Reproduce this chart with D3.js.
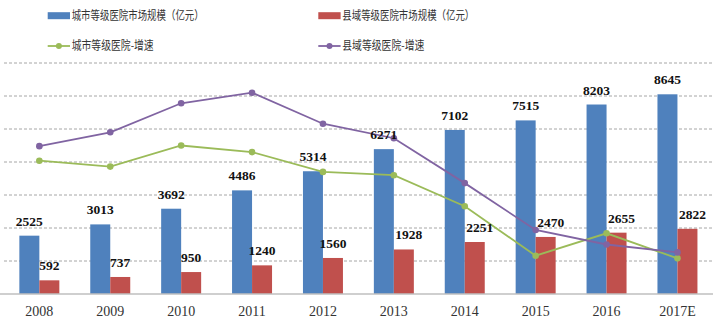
<!DOCTYPE html>
<html>
<head>
<meta charset="utf-8">
<script src="https://cdn.jsdelivr.net/npm/d3@7"></script>
<style>
  html, body { margin: 0; padding: 0; background: #fff; }
  svg { display: block; }
</style>
</head>
<body>
<svg id="chart" width="720" height="330"></svg>
<script>
const categories = ["2008","2009","2010","2011","2012","2013","2014","2015","2016","2017E"];
const cityMarket = [2525, 3013, 3692, 4486, 5314, 6271, 7102, 7515, 8203, 8645];
const countyMarket = [592, 737, 950, 1240, 1560, 1928, 2251, 2470, 2655, 2822];
const cityGrowth = [20.2, 19.3, 22.5, 21.5, 18.5, 18.0, 13.3, 5.8, 9.2, 5.4];
const countyGrowth = [22.4, 24.5, 28.9, 30.5, 25.8, 23.6, 16.8, 9.7, 7.5, 6.3];
const growthTicks = [0, 5, 10, 15, 20, 25, 30, 35];
const seriesNames = ["城市等级医院市场规模（亿元）", "县域等级医院市场规模（亿元）", "城市等级医院-增速", "县域等级医院-增速"];

const colors = { city: "#4F81BD", county: "#C0504D", cityLine: "#9BBB59", countyLine: "#8064A2" };
const svg = d3.select("#chart");
const plotTop = 63, plotBottom = 294, plotLeft = 3.9, plotRight = 712.9;

const x = d3.scaleBand().domain(categories).range([plotLeft, plotRight]).paddingInner(0.436).paddingOuter(0.218);
const x1 = d3.scaleBand().domain(["city", "county"]).range([0, x.bandwidth()]);
const yBar = d3.scaleLinear().domain([0, 10000]).range([plotBottom, plotTop]);
const yRate = d3.scaleLinear().domain([0, 35]).range([plotBottom, plotTop]);

// gridlines
svg.append("g").selectAll("line").data(growthTicks.filter(d => d > 0)).join("line")
  .attr("x1", 4).attr("x2", 713)
  .attr("y1", d => yRate(d)).attr("y2", d => yRate(d))
  .attr("stroke", "#a6a6a6").attr("stroke-width", 1).attr("stroke-dasharray", "3,2");

// bars
const g = svg.append("g");
categories.forEach((c, i) => {
  g.append("rect").attr("x", x(c) + x1("city")).attr("width", x1.bandwidth())
    .attr("y", yBar(cityMarket[i])).attr("height", plotBottom - yBar(cityMarket[i])).attr("fill", colors.city);
  g.append("rect").attr("x", x(c) + x1("county")).attr("width", x1.bandwidth())
    .attr("y", yBar(countyMarket[i])).attr("height", plotBottom - yBar(countyMarket[i])).attr("fill", colors.county);
});

// baseline axis
const xAxis = d3.axisBottom(x).tickSize(0).tickPadding(12);
const axg = svg.append("g").attr("transform", `translate(0,${plotBottom})`).call(xAxis);
axg.select(".domain").attr("d", `M0,0H713`).attr("stroke", "#bfbfbf").attr("stroke-width", 1.5);
axg.selectAll("text").attr("font-family", "'Liberation Serif','Times New Roman',serif")
  .attr("font-size", 14).attr("fill", "#333");

// lines
const cx = c => x(c) + x.bandwidth() / 2;
function drawLine(vals, color) {
  const line = d3.line().x((d, i) => cx(categories[i])).y(d => yRate(d));
  svg.append("path").datum(vals).attr("d", line).attr("fill", "none")
    .attr("stroke", color).attr("stroke-width", 1.8);
  svg.append("g").selectAll("circle").data(vals).join("circle")
    .attr("cx", (d, i) => cx(categories[i])).attr("cy", d => yRate(d)).attr("r", 3.3).attr("fill", color);
}
drawLine(cityGrowth, colors.cityLine);
drawLine(countyGrowth, colors.countyLine);

// labels
const lab = svg.append("g").attr("font-family", "'Liberation Serif','Times New Roman',serif")
  .attr("font-weight", "bold").attr("font-size", 13.5).attr("fill", "#111").attr("text-anchor", "middle");
categories.forEach((c, i) => {
  lab.append("text").attr("x", x(c) + x1("city") + x1.bandwidth() / 2).attr("y", yBar(cityMarket[i]) - 10).text(cityMarket[i]);
  lab.append("text").attr("x", x(c) + x1("county") + x1.bandwidth() / 2 + (i >= 5 ? 5 : 0)).attr("y", yBar(countyMarket[i]) - 10).text(countyMarket[i]);
});

// legend
const leg = svg.append("g").attr("font-family", "'Noto Sans CJK SC','Noto Sans',sans-serif").attr("font-size", 12).attr("fill", "#333");
const legItems = [
  { name: seriesNames[0], type: "rect", color: colors.city, x: 47.7, y: 15.7, w: 132 },
  { name: seriesNames[1], type: "rect", color: colors.county, x: 318.3, y: 15.7, w: 132 },
  { name: seriesNames[2], type: "line", color: colors.cityLine, x: 47.7, y: 46, w: 82 },
  { name: seriesNames[3], type: "line", color: colors.countyLine, x: 318.3, y: 46, w: 82 }
];
legItems.forEach(it => {
  if (it.type === "rect") {
    leg.append("rect").attr("x", it.x).attr("y", it.y - 3.5).attr("width", 22.3).attr("height", 7).attr("fill", it.color);
  } else {
    leg.append("line").attr("x1", it.x).attr("x2", it.x + 22.3).attr("y1", it.y).attr("y2", it.y)
      .attr("stroke", it.color).attr("stroke-width", 1.8);
    leg.append("circle").attr("cx", it.x + 11.2).attr("cy", it.y).attr("r", 3).attr("fill", it.color);
  }
  leg.append("text").attr("x", it.x + 24).attr("y", it.y).attr("dy", "0.36em")
    .attr("textLength", it.w).attr("lengthAdjust", "spacingAndGlyphs").text(it.name);
});
</script>
</body>
</html>
